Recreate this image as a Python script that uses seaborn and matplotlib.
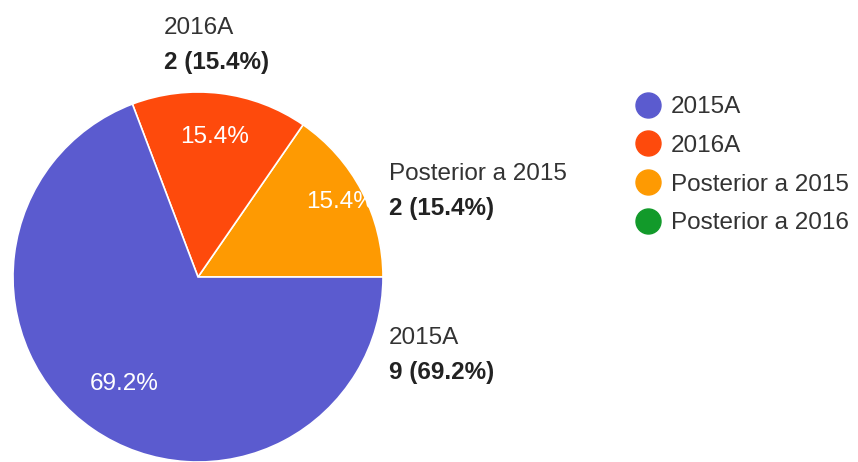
import matplotlib
matplotlib.use("Agg")
import matplotlib.pyplot as plt
from matplotlib.lines import Line2D
import numpy as np
import seaborn as sns

# data, in the order the wedges are drawn (counter-clockwise from 3 o'clock)
categories = ["Posterior a 2015", "2016A", "2015A"]
counts = [2, 2, 9]
# legend order as in the original form summary
legend_labels = ["2015A", "2016A", "Posterior a 2015", "Posterior a 2016"]
legend_colors = ["#5b5bcf", "#fe4a0c", "#fe9a02", "#129a2a"]

sns.set_theme(style="white")
plt.rcParams["font.family"] = ["Liberation Sans", "DejaVu Sans"]
fs = 17.5

pal = dict(zip(legend_labels, legend_colors))
slice_colors = [pal[c] for c in categories]
total = sum(counts)
pcts = [100 * c / total for c in counts]

fig = plt.figure(figsize=(8.58, 4.62), dpi=100)
# pie centre at ~(198, 277) px, radius ~185 px
ax = fig.add_axes([13 / 858, 0.0, 370 / 858, 370 / 462])
wedges, _ = ax.pie(counts, colors=slice_colors, startangle=0, counterclock=True,
                   radius=1, wedgeprops=dict(edgecolor="white", linewidth=1.2))
ax.set_xlim(-1, 1)
ax.set_ylim(-1, 1)
ax.set_aspect("equal")
ax.axis("off")

inner_r = [0.87, 0.76, 0.70]
for w, p, r in zip(wedges, pcts, inner_r):
    mid = np.deg2rad((w.theta1 + w.theta2) / 2)
    ax.text(r * np.cos(mid), r * np.sin(mid), f"{p:.1f}%", color="white",
            fontsize=fs, ha="center", va="center")

# outside labels (category + count)
out_pos = {"Posterior a 2015": (389, 174), "2016A": (164, 28), "2015A": (389, 338)}
for c, n, p in zip(categories, counts, pcts):
    x, y = out_pos[c]
    fig.text(x / 858, 1 - y / 462, c, fontsize=fs, color="#333333",
             ha="left", va="center")
    fig.text(x / 858, 1 - (y + 35) / 462, f"{n} ({p:.1f}%)", fontsize=fs,
             color="#222222", fontweight="bold", ha="left", va="center")

handles = [Line2D([], [], marker="o", linestyle="", markersize=18,
                  markerfacecolor=col, markeredgecolor=col) for col in legend_colors]
fig.legend(handles, legend_labels, loc="upper left",
           bbox_to_anchor=(636 / 858, 1 - 96 / 462), frameon=False,
           fontsize=fs, labelspacing=0.69, handlelength=1.0, handletextpad=0.45,
           labelcolor="#333333", borderaxespad=0, borderpad=0)

fig.savefig("out.png", dpi=100, facecolor="white")
